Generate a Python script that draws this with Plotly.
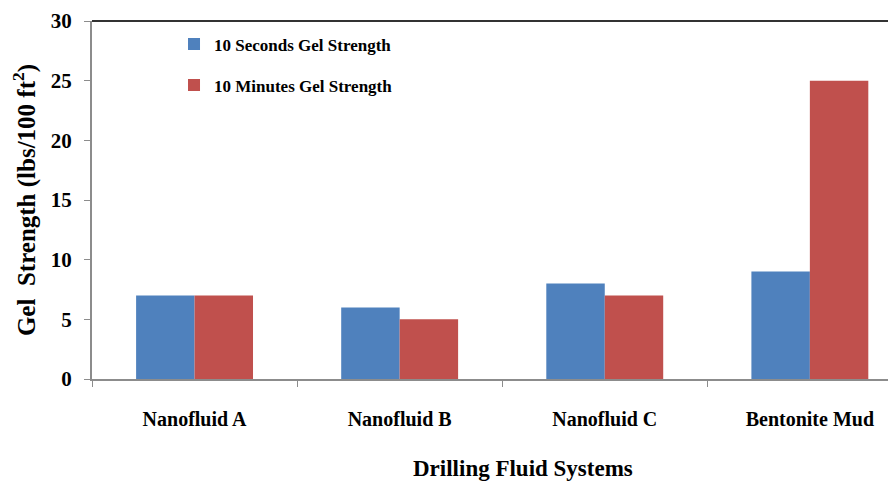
import plotly.graph_objects as go

categories = ["Nanofluid A", "Nanofluid B", "Nanofluid C", "Bentonite Mud"]
gel_10s = [7, 6, 8, 9]
gel_10min = [7, 5, 7, 25]
series_names = ["10 Seconds Gel Strength", "10 Minutes Gel Strength"]
y_ticks = [0, 5, 10, 15, 20, 25, 30]
x_title = "Drilling Fluid Systems"
y_title = "Gel  Strength (lbs/100 ft<sup>2</sup>)"

FONT = "Liberation Serif"

fig = go.Figure()
fig.add_trace(go.Bar(x=categories, y=gel_10s, name=series_names[0],
                     marker=dict(color="#4F81BD", line=dict(width=0)),
                     legendgroup="a"))
fig.add_trace(go.Bar(x=categories, y=gel_10min, name=series_names[1],
                     marker=dict(color="#C0504D", line=dict(width=0)),
                     legendgroup="b"))

fig.update_layout(
    width=888, height=476,
    margin=dict(l=84, r=0, t=13, b=105, autoexpand=False),
    paper_bgcolor="white", plot_bgcolor="white",
    barmode="group", bargap=0.43, bargroupgap=0,
    font=dict(family=FONT, color="black"),
    showlegend=True,
    legend=dict(x=0.102, y=0.985, xanchor="left", yanchor="top",
                bgcolor="rgba(0,0,0,0)", traceorder="grouped",
                tracegroupgap=16,
                font=dict(family=FONT, size=17, color="black", weight="bold"),
                itemwidth=30),
    xaxis=dict(range=[-0.5, 3.42], showgrid=False, showline=True,
               automargin=False, ticklabeloverflow="allow",
               linecolor="#8C8C8C", linewidth=2, ticks="outside",
               tickson="boundaries", ticklen=6, tickcolor="#8C8C8C",
               tickfont=dict(family=FONT, size=20, color="black", weight="bold"),
               ticklabelstandoff=21),
    yaxis=dict(range=[0, 30], tickvals=y_ticks, showgrid=False,
               automargin=False, ticklabeloverflow="allow",
               showline=True, linecolor="#8C8C8C", linewidth=2,
               ticks="outside", ticklen=6, tickcolor="#8C8C8C",
               tickfont=dict(family=FONT, size=21, color="black", weight="bold"),
               ticklabelstandoff=8, zeroline=False,
               title=dict(text=y_title,
                          font=dict(family=FONT, size=25, color="black", weight="bold"),
                          standoff=14)),
)

fig.add_annotation(text=x_title, xref="paper", yref="paper", x=0.536, y=0,
                   yshift=-89, xanchor="center", yanchor="middle", showarrow=False,
                   font=dict(family=FONT, size=23, color="black", weight="bold"))

fig.add_shape(type="line", xref="paper", yref="paper", x0=0, x1=1, y0=1, y1=1,
              line=dict(color="#333333", width=2))

fig.write_html("out.html")
